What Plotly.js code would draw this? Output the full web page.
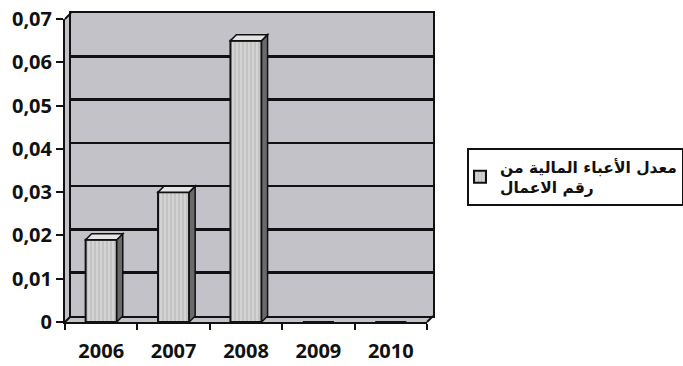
<!DOCTYPE html>
<html>
<head>
<meta charset="utf-8">
<script src="https://cdn.plot.ly/plotly-3.0.1.min.js"></script>
<style>html,body{margin:0;padding:0;background:#fff;}#chart{width:683px;height:366px;}</style>
</head>
<body>
<div id="chart"></div>
<script>
// ---- data ----
const years = ['2006', '2007', '2008', '2009', '2010'];
const values = [0.019, 0.030, 0.065, 0, 0];
const yTickVals = [0, 0.01, 0.02, 0.03, 0.04, 0.05, 0.06, 0.07];
const yTickText = ['0', '0,01', '0,02', '0,03', '0,04', '0,05', '0,06', '0,07'];
const seriesName = 'معدل الأعباء المالية من<br>رقم الاعمال';

// ---- layout geometry (pixels) ----
const W = 683, H = 366;
const frontL = 65, frontR = 427, frontT = 19, frontB = 322;
const depth = 6;
const backL = frontL + depth, backR = frontR + depth, backT = frontT - depth, backB = frontB - depth;
const mL = frontL, mR = W - backR, mT = backT, mB = H - frontB;
const PW = W - mL - mR, PH = H - mT - mB;
const px = v => (v - mL) / PW;
const py = v => (H - mB - v) / PH;
const yMax = 0.07;
const barWidth = 0.43;
const dx = depth / ((frontR - frontL) / years.length);
const dy = depth * yMax / (frontB - frontT);

const shapes = [];
// 3D box silhouette (grey walls)
shapes.push({
  type: 'path', xref: 'paper', yref: 'paper', layer: 'below',
  path: `M${px(frontL)},${py(frontT)} L${px(backL)},${py(backT)} L${px(backR)},${py(backT)} L${px(backR)},${py(backB)} L${px(frontR)},${py(frontB)} L${px(frontL)},${py(frontB)} Z`,
  fillcolor: '#c2c2c8', line: {width: 0}
});
// bevel edges
[[frontL, frontT, backL, backT], [frontR, frontB, backR, backB], [frontL, frontB, backL, backB]].forEach(e => {
  shapes.push({type: 'line', xref: 'paper', yref: 'paper', x0: px(e[0]), y0: py(e[1]), x1: px(e[2]), y1: py(e[3]), line: {color: '#111', width: 2}});
});
// bar side and top faces from data
values.forEach((v, i) => {
  if (!v) return;
  const xl = i - barWidth / 2, xr = i + barWidth / 2;
  shapes.push({type: 'path', xref: 'x2', yref: 'y2',
    path: `M${xr},0 L${xr},${v} L${xr + dx},${v + dy} L${xr + dx},${dy} Z`,
    fillcolor: '#6a6a6a', line: {color: '#111', width: 1.5}});
  shapes.push({type: 'path', xref: 'x2', yref: 'y2',
    path: `M${xl},${v} L${xl + dx},${v + dy} L${xr + dx},${v + dy} L${xr},${v} Z`,
    fillcolor: '#e4e4e4', line: {color: '#111', width: 1.5}});
});

const tickFont = {family: '"Open Sans", "Liberation Sans", sans-serif', size: 20, color: '#111', weight: 700};

const data = [
  {x: [], y: [], type: 'scatter', xaxis: 'x', yaxis: 'y', showlegend: false, hoverinfo: 'skip'},
  {
    x: years, y: values, type: 'bar', name: seriesName, xaxis: 'x2', yaxis: 'y2', width: barWidth,
    marker: {color: '#d4d4d4', line: {color: '#111', width: 2},
      pattern: {shape: '|', size: 4, solidity: 0.2, fgcolor: '#aaaaaa', bgcolor: '#d4d4d4'}},
    showlegend: true
  }
];

const layout = {
  width: W, height: H,
  margin: {l: mL, r: mR, t: mT, b: mB, autoexpand: false},
  paper_bgcolor: '#ffffff', plot_bgcolor: 'rgba(0,0,0,0)',
  showlegend: true,
  legend: {
    x: px(467), xanchor: 'left', y: py(148), yanchor: 'top', indentation: -9,
    bordercolor: '#111', borderwidth: 2, bgcolor: '#ffffff',
    font: {family: '"DejaVu Sans", sans-serif', size: 15.5, color: '#111', weight: 700}
  },
  xaxis: {domain: [px(backL), 1], anchor: 'y', range: [-0.5, 4.5], showline: true, mirror: true,
    linecolor: '#111', linewidth: 2, showgrid: false, zeroline: false, showticklabels: false, ticks: ''},
  yaxis: {domain: [py(backB), 1], anchor: 'x', range: [0, yMax], tickvals: yTickVals, showgrid: true,
    gridcolor: '#111', gridwidth: 2.5, showline: true, mirror: true, linecolor: '#111', linewidth: 2,
    zeroline: false, showticklabels: false, ticks: ''},
  xaxis2: {domain: [0, px(frontR)], anchor: 'y2', type: 'category', range: [-0.5, 4.5],
    showline: true, linecolor: '#111', linewidth: 2, ticks: 'outside', ticklen: 6, tickwidth: 2,
    tickcolor: '#111', tickson: 'boundaries', showgrid: false, zeroline: false,
    tickfont: tickFont, ticklabelstandoff: 10},
  yaxis2: {domain: [0, py(frontT)], anchor: 'x2', range: [0, yMax], tickvals: yTickVals, ticktext: yTickText,
    showline: true, linecolor: '#111', linewidth: 2, ticks: 'outside', ticklen: 7, tickwidth: 2,
    tickcolor: '#111', showgrid: false, zeroline: false, tickfont: tickFont, ticklabelstandoff: 0},
  shapes: shapes
};

Plotly.newPlot('chart', data, layout, {displayModeBar: false, staticPlot: true});
</script>
</body>
</html>
